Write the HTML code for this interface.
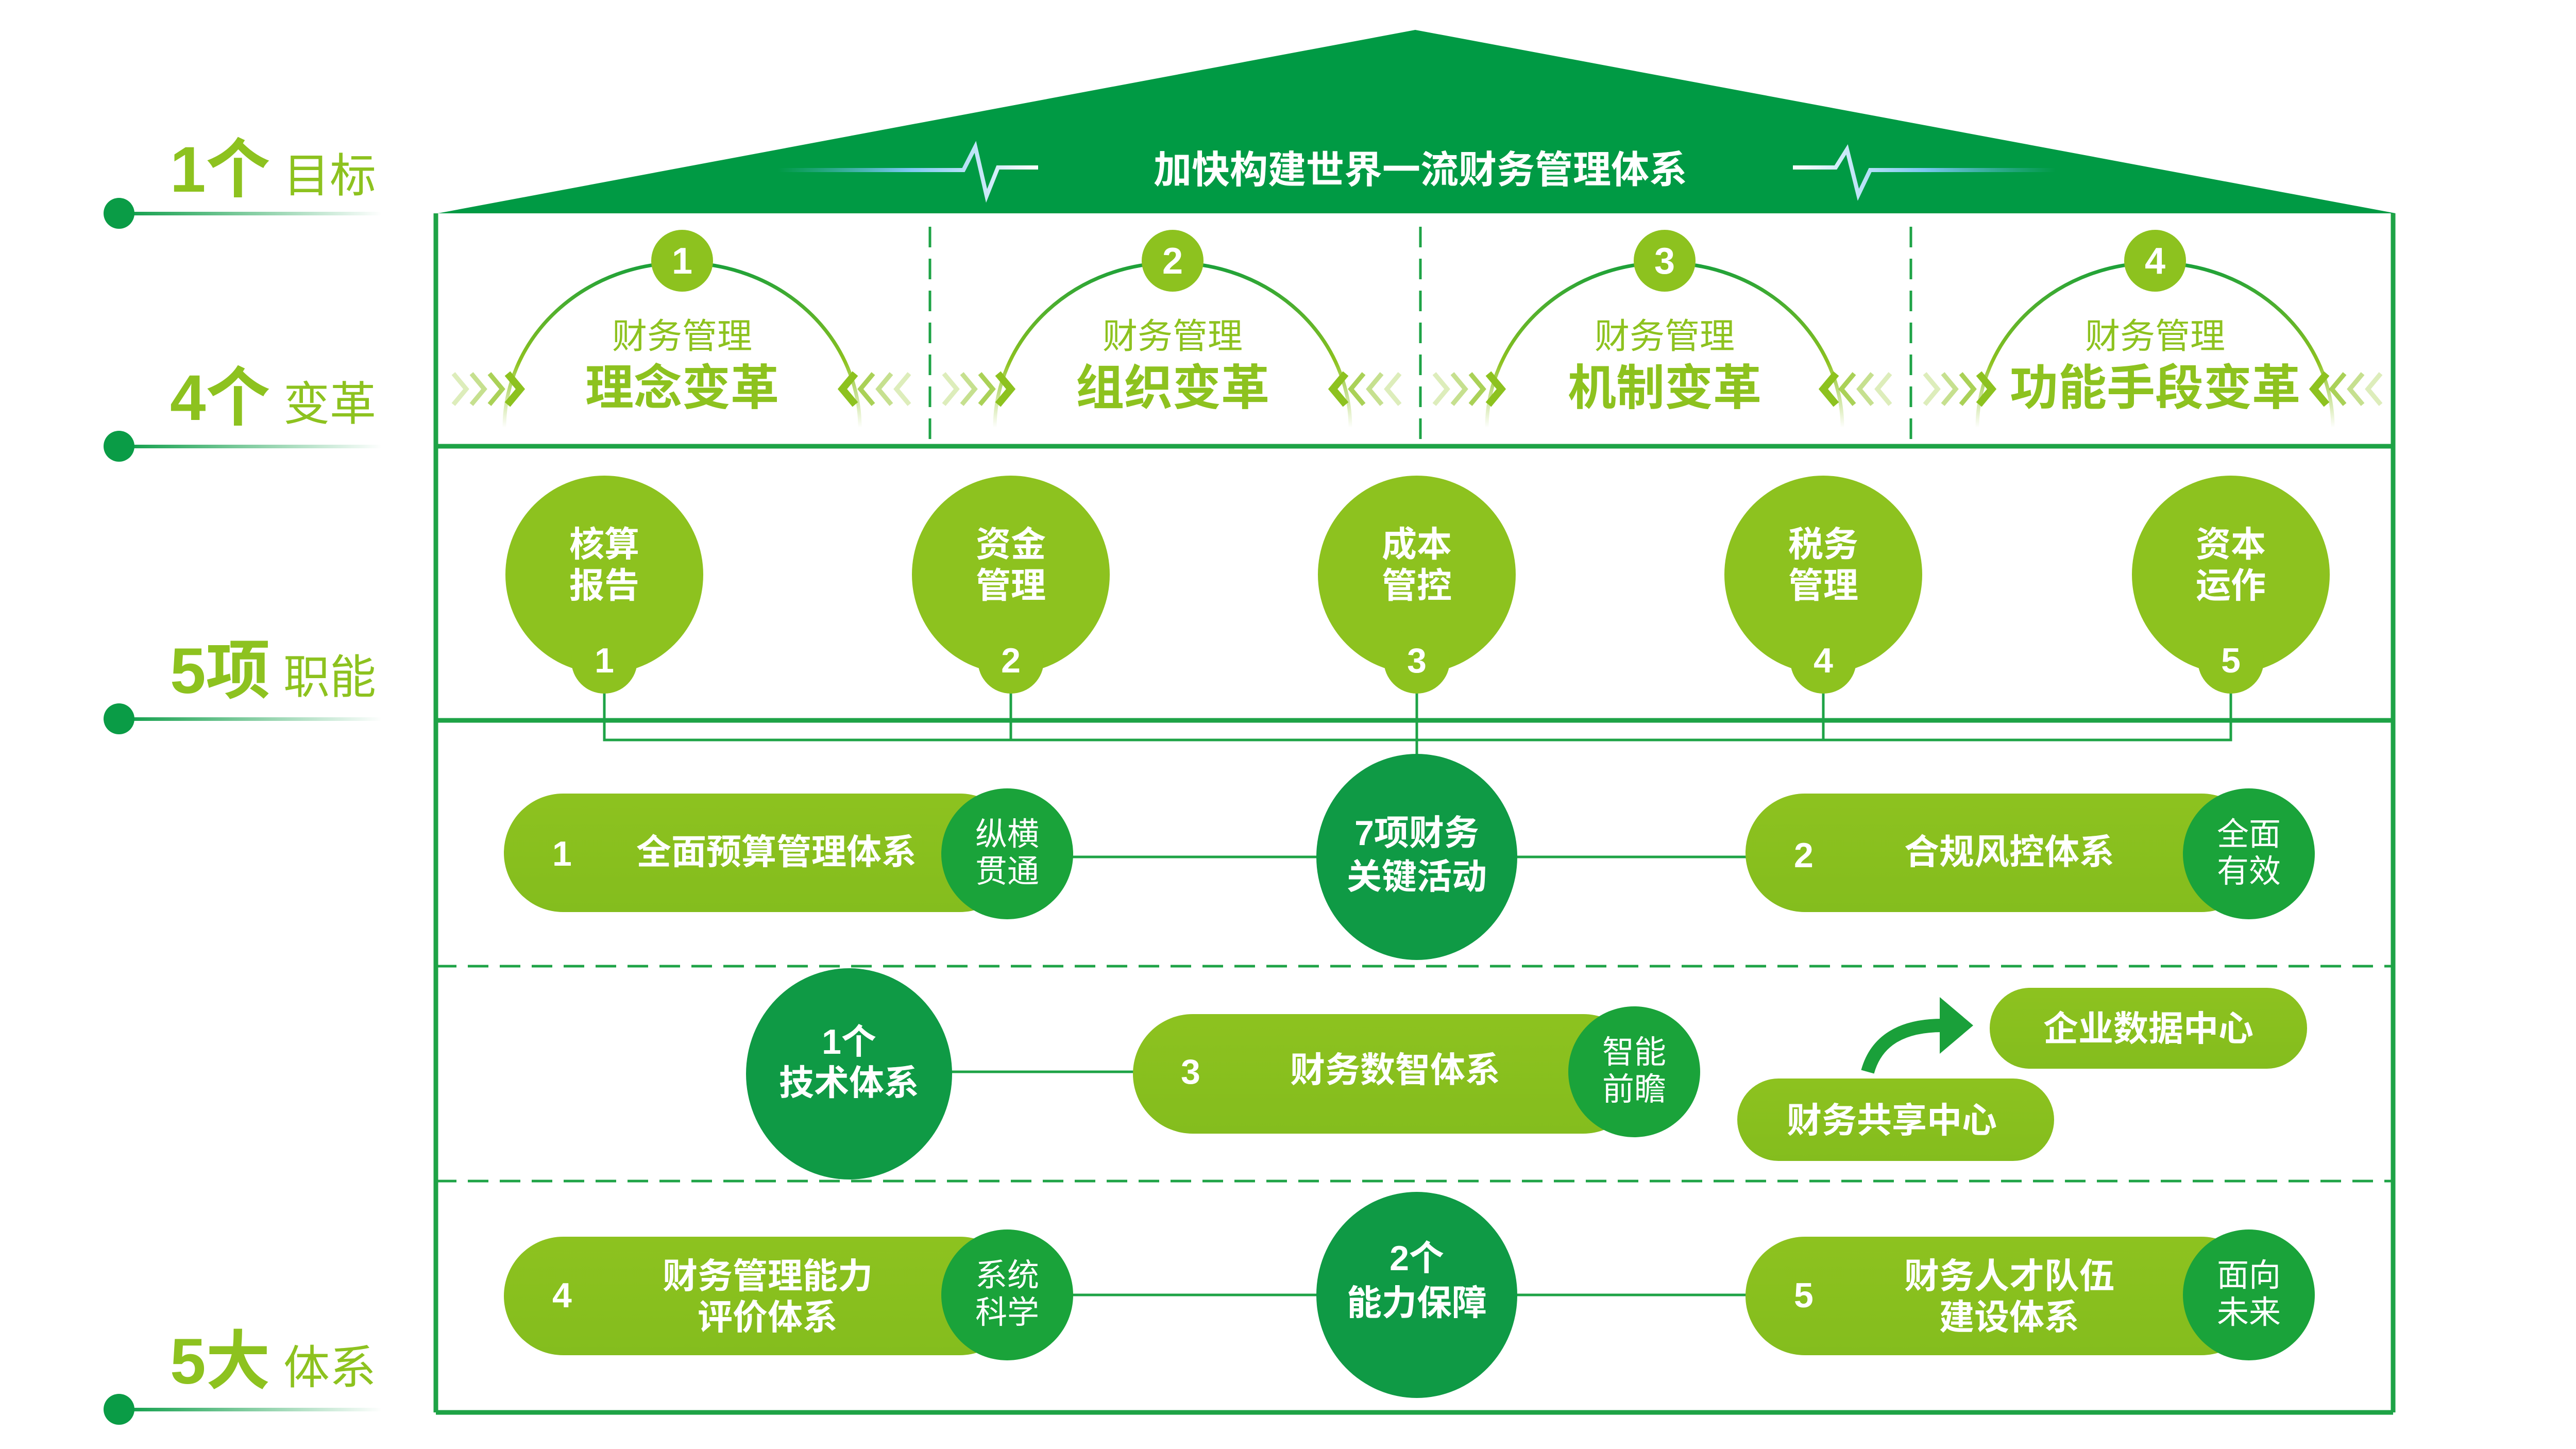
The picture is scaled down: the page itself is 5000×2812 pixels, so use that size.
<!DOCTYPE html>
<html><head><meta charset="utf-8"><style>
html,body{margin:0;padding:0;background:#fff;}
svg{display:block;}
text{font-family:"Liberation Sans","Noto Sans CJK SC",sans-serif;}
.w{fill:#fff;font-weight:bold;}
.wr{fill:#fff;}
</style></head><body>
<svg width="5000" height="2812" viewBox="0 0 5000 2812" xmlns="http://www.w3.org/2000/svg">
<defs>
<linearGradient id="lg" x1="0" x2="1" y1="0" y2="0">
<stop offset="0" stop-color="#0a9c46"/><stop offset="1" stop-color="#0a9c46" stop-opacity="0"/></linearGradient>
<linearGradient id="pl" x1="0" x2="1"><stop offset="0" stop-color="#5bb8e8" stop-opacity="0"/><stop offset="0.5" stop-color="#7cc8f0"/><stop offset="1" stop-color="#fff"/></linearGradient>
<linearGradient id="pr" x1="1" x2="0"><stop offset="0" stop-color="#5bb8e8" stop-opacity="0"/><stop offset="0.5" stop-color="#7cc8f0"/><stop offset="1" stop-color="#fff"/></linearGradient>
<linearGradient id="arc" x1="0" x2="0" y1="0" y2="1"><stop offset="0" stop-color="#1aa03a"/><stop offset="0.6" stop-color="#8dc21f"/><stop offset="1" stop-color="#8dc21f" stop-opacity="0"/></linearGradient>
<linearGradient id="pill" x1="0" x2="0" y1="0" y2="1"><stop offset="0" stop-color="#8dc21f"/><stop offset="1" stop-color="#84bd1e"/></linearGradient>
</defs>

<!-- roof -->
<polygon points="850,414 2747,58 4650,414" fill="#009a44"/>
<text x="2757" y="355" text-anchor="middle" class="w" font-size="74">加快构建世界一流财务管理体系</text>
<polyline points="1510,330 1870,330 1893,285 1915,380 1937,325 2015,325" fill="none" stroke="url(#pl)" stroke-width="8"/>
<polyline points="3480,325 3563,325 3585,290 3607,378 3630,330 3990,330" fill="none" stroke="url(#pr)" stroke-width="8"/>

<!-- frame -->
<g stroke="#1ea346" stroke-width="9" fill="none">
<line x1="846" y1="414" x2="846" y2="2741"/>
<line x1="4645" y1="414" x2="4645" y2="2741"/>
<line x1="846" y1="866" x2="4645" y2="866"/>
<line x1="846" y1="1398" x2="4645" y2="1398"/>
<line x1="846" y1="2741" x2="4645" y2="2741"/>
</g>
<g stroke="#1ea346" stroke-width="5" stroke-dasharray="40 22" fill="none">
<line x1="846" y1="1875" x2="4645" y2="1875"/>
<line x1="846" y1="2292" x2="4645" y2="2292"/>
<line x1="1805" y1="440" x2="1805" y2="862"/>
<line x1="2757" y1="440" x2="2757" y2="862"/>
<line x1="3709" y1="440" x2="3709" y2="862"/>
</g>

<!-- left labels -->
<g>
<circle cx="231" cy="414" r="30" fill="#0a9c46"/><rect x="231" y="411" width="510" height="7" fill="url(#lg)"/>
<text x="330" y="372" font-size="125" font-weight="bold" fill="#8dc21f">1个</text><text x="550" y="372" font-size="90" fill="#8dc21f">目标</text>
<circle cx="231" cy="866" r="30" fill="#0a9c46"/><rect x="231" y="863" width="510" height="7" fill="url(#lg)"/>
<text x="330" y="815" font-size="125" font-weight="bold" fill="#8dc21f">4个</text><text x="550" y="815" font-size="90" fill="#8dc21f">变革</text>
<circle cx="231" cy="1395" r="30" fill="#0a9c46"/><rect x="231" y="1392" width="510" height="7" fill="url(#lg)"/>
<text x="330" y="1345" font-size="125" font-weight="bold" fill="#8dc21f">5项</text><text x="550" y="1345" font-size="90" fill="#8dc21f">职能</text>
<circle cx="231" cy="2735" r="30" fill="#0a9c46"/><rect x="231" y="2732" width="510" height="7" fill="url(#lg)"/>
<text x="330" y="2685" font-size="125" font-weight="bold" fill="#8dc21f">5大</text><text x="550" y="2685" font-size="90" fill="#8dc21f">体系</text>
</g>

<!-- arches -->
<g id="a1">
<path d="M979 830 A345 320 0 0 1 1669 830" fill="none" stroke="url(#arc)" stroke-width="7"/>
</g>
<path d="M1931 830 A345 320 0 0 1 2621 830" fill="none" stroke="url(#arc)" stroke-width="7"/>
<path d="M2886 830 A345 320 0 0 1 3576 830" fill="none" stroke="url(#arc)" stroke-width="7"/>
<path d="M3838 830 A345 320 0 0 1 4528 830" fill="none" stroke="url(#arc)" stroke-width="7"/>
<g fill="#8dc21f">
<circle cx="1324" cy="506" r="60"/><circle cx="2276" cy="506" r="60"/><circle cx="3231" cy="506" r="60"/><circle cx="4183" cy="506" r="60"/>
</g>
<g class="w" font-size="72" text-anchor="middle">
<text x="1324" y="531">1</text><text x="2276" y="531">2</text><text x="3231" y="531">3</text><text x="4183" y="531">4</text>
</g>
<g text-anchor="middle" fill="#8dc21f">
<text x="1324" y="676" font-size="68">财务管理</text><text x="1324" y="785" font-size="94" font-weight="bold">理念变革</text>
<text x="2276" y="676" font-size="68">财务管理</text><text x="2276" y="785" font-size="94" font-weight="bold">组织变革</text>
<text x="3231" y="676" font-size="68">财务管理</text><text x="3231" y="785" font-size="94" font-weight="bold">机制变革</text>
<text x="4183" y="676" font-size="68">财务管理</text><text x="4183" y="785" font-size="94" font-weight="bold">功能手段变革</text>
</g>
<!-- chevrons -->
<g fill="none" stroke="#8dc21f" stroke-width="9">
<g id="cr"><polyline points="880,725 905,755 880,785" opacity="0.3"/><polyline points="915,725 940,755 915,785" opacity="0.5"/><polyline points="950,725 975,755 950,785" opacity="0.75"/><polyline points="985,725 1010,755 985,785" stroke-width="14"/></g>
<g id="cl"><polyline points="1660,725 1635,755 1660,785" stroke-width="14"/><polyline points="1695,725 1670,755 1695,785" opacity="0.75"/><polyline points="1730,725 1705,755 1730,785" opacity="0.5"/><polyline points="1765,725 1740,755 1765,785" opacity="0.3"/></g>
<use href="#cr" x="952"/><use href="#cl" x="952"/>
<use href="#cr" x="1904"/><use href="#cl" x="1904"/>
<use href="#cr" x="2856"/><use href="#cl" x="2856"/>
</g>

<!-- connectors -->
<g stroke="#1ea346" stroke-width="5" fill="none">
<polyline points="1173,1300 1173,1436 4330,1436 4330,1300"/>
<line x1="1962" y1="1300" x2="1962" y2="1436"/>
<line x1="2750" y1="1300" x2="2750" y2="1480"/>
<line x1="3539" y1="1300" x2="3539" y2="1436"/>
<line x1="1990" y1="1663" x2="3390" y2="1663"/>
<line x1="1648" y1="2080" x2="2210" y2="2080"/>
<line x1="1990" y1="2513" x2="3390" y2="2513"/>
</g>

<!-- function circles -->
<g fill="#8dc21f">
<circle cx="1173" cy="1115" r="192"/><circle cx="1173" cy="1282" r="64"/>
<circle cx="1962" cy="1115" r="192"/><circle cx="1962" cy="1282" r="64"/>
<circle cx="2750" cy="1115" r="192"/><circle cx="2750" cy="1282" r="64"/>
<circle cx="3539" cy="1115" r="192"/><circle cx="3539" cy="1282" r="64"/>
<circle cx="4330" cy="1115" r="192"/><circle cx="4330" cy="1282" r="64"/>
</g>
<g class="w" font-size="68" text-anchor="middle">
<text x="1173" y="1080">核算</text><text x="1173" y="1160">报告</text><text x="1173" y="1305">1</text>
<text x="1962" y="1080">资金</text><text x="1962" y="1160">管理</text><text x="1962" y="1305">2</text>
<text x="2750" y="1080">成本</text><text x="2750" y="1160">管控</text><text x="2750" y="1305">3</text>
<text x="3539" y="1080">税务</text><text x="3539" y="1160">管理</text><text x="3539" y="1305">4</text>
<text x="4330" y="1080">资本</text><text x="4330" y="1160">运作</text><text x="4330" y="1305">5</text>
</g>

<!-- center dark circles -->
<g fill="#0f9a45">
<ellipse cx="2750" cy="1663" rx="195" ry="200"/>
<ellipse cx="1648" cy="2084" rx="200" ry="205"/>
<ellipse cx="2750" cy="2513" rx="195" ry="200"/>
</g>
<g class="w" font-size="68" text-anchor="middle">
<text x="2750" y="1640">7项财务</text><text x="2750" y="1725">关键活动</text>
<text x="1648" y="2045">1个</text><text x="1648" y="2125">技术体系</text>
<text x="2750" y="2465">2个</text><text x="2750" y="2552">能力保障</text>
</g>

<!-- pills -->
<g fill="url(#pill)">
<rect x="978" y="1540" width="1000" height="230" rx="115"/>
<rect x="3388" y="1540" width="1000" height="230" rx="115"/>
<rect x="2199" y="1968" width="990" height="232" rx="116"/>
<rect x="978" y="2400" width="1000" height="230" rx="115"/>
<rect x="3388" y="2400" width="1000" height="230" rx="115"/>
<rect x="3862" y="1917" width="616" height="157" rx="78"/>
<rect x="3372" y="2093" width="615" height="160" rx="80"/>
</g>
<g fill="#1aa33a">
<ellipse cx="1955" cy="1657" rx="128" ry="127"/>
<ellipse cx="4365" cy="1657" rx="128" ry="127"/>
<ellipse cx="3172" cy="2080" rx="128" ry="127"/>
<ellipse cx="1955" cy="2513" rx="128" ry="127"/>
<ellipse cx="4365" cy="2513" rx="128" ry="127"/>
</g>
<g class="w" font-size="68">
<text x="1072" y="1680">1</text><text x="1507" y="1677" text-anchor="middle">全面预算管理体系</text>
<text x="3482" y="1683">2</text><text x="3900" y="1677" text-anchor="middle">合规风控体系</text>
<text x="2292" y="2103">3</text><text x="2708" y="2100" text-anchor="middle">财务数智体系</text>
<text x="1072" y="2537">4</text><text x="1490" y="2500" text-anchor="middle">财务管理能力</text><text x="1490" y="2580" text-anchor="middle">评价体系</text>
<text x="3482" y="2537">5</text><text x="3900" y="2500" text-anchor="middle">财务人才队伍</text><text x="3900" y="2580" text-anchor="middle">建设体系</text>
<text x="4170" y="2020" text-anchor="middle">企业数据中心</text>
<text x="3672" y="2198" text-anchor="middle">财务共享中心</text>
</g>
<g class="wr" font-size="62" text-anchor="middle">
<text x="1955" y="1640">纵横</text><text x="1955" y="1712">贯通</text>
<text x="4365" y="1640">全面</text><text x="4365" y="1712">有效</text>
<text x="3172" y="2063">智能</text><text x="3172" y="2135">前瞻</text>
<text x="1955" y="2496">系统</text><text x="1955" y="2568">科学</text>
<text x="4365" y="2496">面向</text><text x="4365" y="2568">未来</text>
</g>
<!-- curved arrow -->
<path d="M3625 2080 Q3650 1990 3770 1990" fill="none" stroke="#1aa03a" stroke-width="26"/>
<polygon points="3765,1935 3830,1990 3765,2045" fill="#1aa03a"/>
</svg>
</body></html>
